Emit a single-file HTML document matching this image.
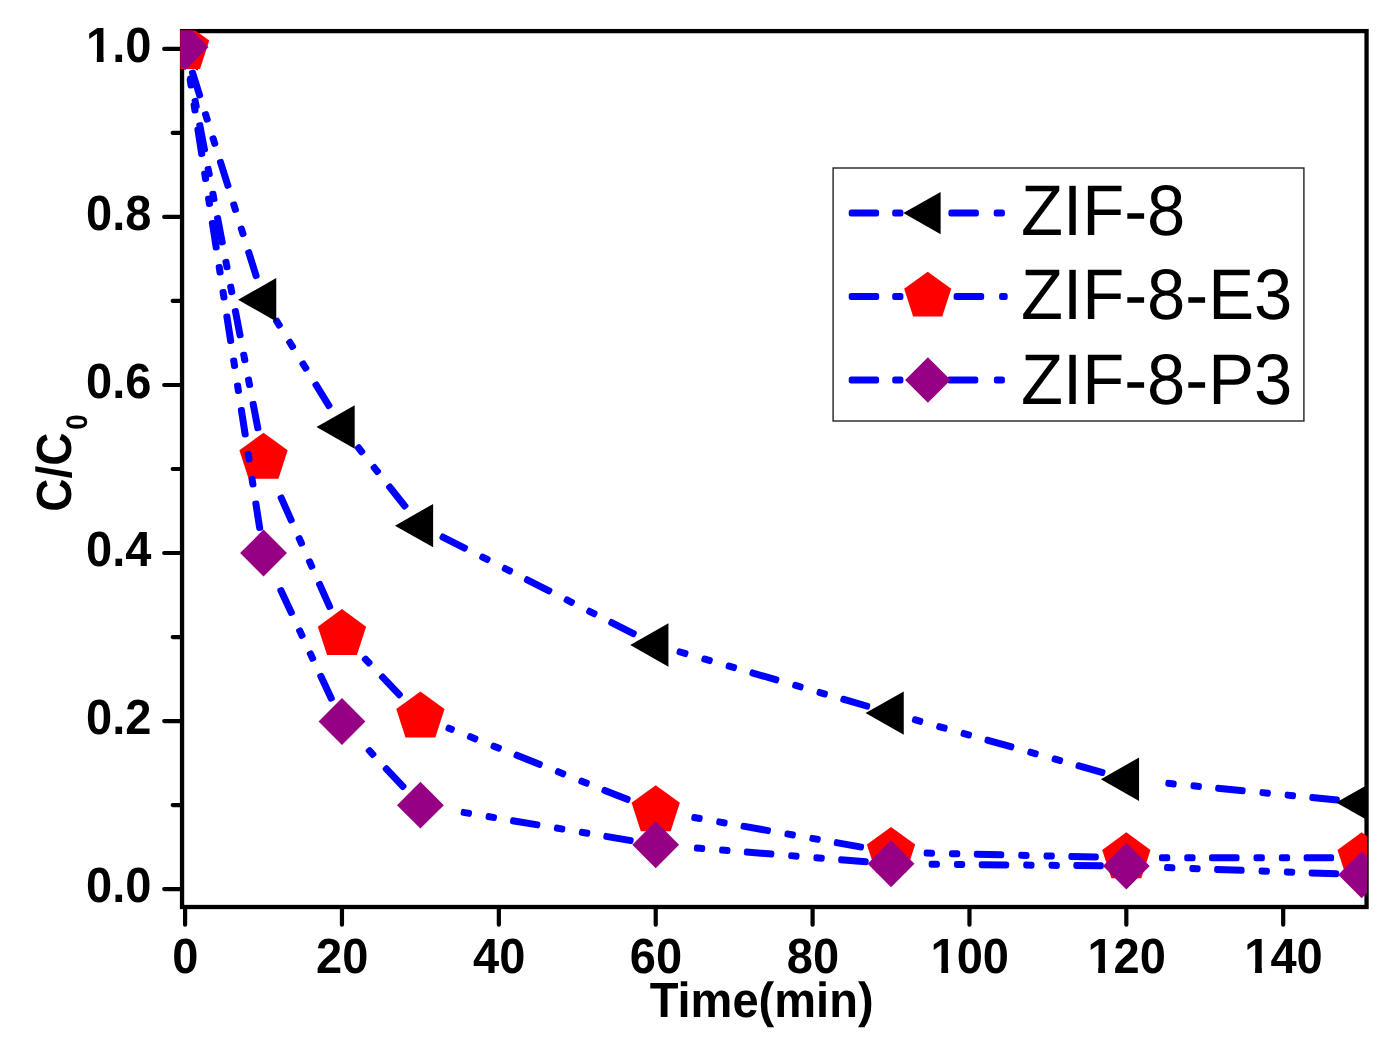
<!DOCTYPE html>
<html lang="en">
<head>
<meta charset="utf-8">
<title>C/C0 vs Time(min) - ZIF-8, ZIF-8-E3, ZIF-8-P3</title>
<style>
html,body{margin:0;padding:0;background:#fff;}
body{width:1393px;height:1041px;overflow:hidden;}
svg{display:block;}
text{white-space:pre;text-rendering:geometricPrecision;}
</style>
</head>
<body>
<svg width="1393" height="1041" viewBox="0 0 1393 1041">
<defs><clipPath id="plot"><rect x="180.4" y="30.6" width="1186.7" height="876.4"/></clipPath></defs>
<rect width="1393" height="1041" fill="#ffffff"/>
<rect x="182.05" y="31.1" width="1184.5" height="875.9" fill="none" stroke="#000" stroke-width="4.3"/>
<path d="M185.1 908.65V924.7M341.97 908.65V924.7M498.84 908.65V924.7M655.72 908.65V924.7M812.59 908.65V924.7M969.46 908.65V924.7M1126.33 908.65V924.7M1283.2 908.65V924.7M164.2 889.1H180.4M172.7 805.08H180.4M164.2 721.06H180.4M172.7 637.04H180.4M164.2 553.02H180.4M172.7 469H180.4M164.2 384.98H180.4M172.7 300.96H180.4M164.2 216.94H180.4M172.7 132.92H180.4M164.2 48.9H180.4" stroke="#000" stroke-width="4.2" fill="none" stroke-linecap="round"/>
<g font-family="'Liberation Sans', Arial, Helvetica, sans-serif" font-weight="bold" font-size="49.4px" fill="#000">
<text transform="translate(185.4 972.9) scale(0.9524 1)" text-anchor="middle">0</text>
<text transform="translate(342.27 972.9) scale(0.9524 1)" text-anchor="middle">20</text>
<text transform="translate(499.14 972.9) scale(0.9524 1)" text-anchor="middle">40</text>
<text transform="translate(656.02 972.9) scale(0.9524 1)" text-anchor="middle">60</text>
<text transform="translate(812.89 972.9) scale(0.9524 1)" text-anchor="middle">80</text>
<text transform="translate(969.76 972.9) scale(0.9524 1)" text-anchor="middle">100</text>
<text transform="translate(1126.63 972.9) scale(0.9524 1)" text-anchor="middle">120</text>
<text transform="translate(1283.5 972.9) scale(0.9524 1)" text-anchor="middle">140</text>
<text transform="translate(151.4 902.3) scale(0.9524 1)" text-anchor="end">0.0</text>
<text transform="translate(151.4 734.26) scale(0.9524 1)" text-anchor="end">0.2</text>
<text transform="translate(151.4 566.22) scale(0.9524 1)" text-anchor="end">0.4</text>
<text transform="translate(151.4 398.18) scale(0.9524 1)" text-anchor="end">0.6</text>
<text transform="translate(151.4 230.14) scale(0.9524 1)" text-anchor="end">0.8</text>
<text transform="translate(151.4 62.1) scale(0.9524 1)" text-anchor="end">1.0</text>
<text transform="translate(761.6 1017.4) scale(0.9524 1)" text-anchor="middle">Time(min)</text>
<text transform="translate(71.2 511.8) rotate(-90) scale(0.932 1)">C/C<tspan font-size="29.8px" dy="16.1" dx="3">0</tspan></text>
</g>
<path d="M931.43 967.26H941.34V973.7H931.43ZM948.1 967.26H956.01V973.7H948.1ZM1088.3 967.26H1098.21V973.7H1088.3ZM1104.97 967.26H1112.88V973.7H1104.97ZM1245.17 967.26H1255.09V973.7H1245.17ZM1261.84 967.26H1269.75V973.7H1261.84ZM86.91 56.46H96.83V62.9H86.91ZM103.58 56.46H111.5V62.9H103.58Z" fill="#fff"/>
<g clip-path="url(#plot)">
<path d="M191.46 72.58L198.79 96.04L200.7 95.44L193.37 71.98ZM204.47 114.17L206.35 120.19L208.26 119.59L206.38 113.58ZM212.02 138.32L213.9 144.33L215.81 143.74L213.93 137.72ZM219.42 161.99L227.03 186.33L228.94 185.73L221.33 161.39ZM232.7 204.46L234.58 210.47L236.49 209.88L234.61 203.86ZM240.25 228.61L242.14 234.62L244.04 234.02L242.16 228.01ZM247.66 252.28L255.27 276.62L257.18 276.02L249.57 251.68ZM275.54 321.08L278.64 326.12L280.34 325.07L277.24 320.03ZM288.61 342.29L291.91 347.66L293.62 346.61L290.31 341.25ZM301.88 363.83L305.19 369.2L306.89 368.15L303.58 362.78ZM314.89 384.95L328.27 406.66L329.97 405.61L316.59 383.9ZM357.32 447.9L361.24 452.83L362.81 451.59L358.89 446.66ZM373.07 467.71L376.99 472.64L378.56 471.39L374.64 466.46ZM388.51 487.12L404.38 507.08L405.94 505.83L390.07 485.87ZM441.92 537.66L464.66 549.19L465.57 547.41L442.82 535.87ZM481.61 557.78L487.23 560.63L488.13 558.85L482.51 556ZM504.18 569.22L509.79 572.07L510.7 570.29L505.08 567.44ZM526.29 580.44L549.04 591.97L549.94 590.19L527.2 578.65ZM565.98 600.56L571.6 603.41L572.51 601.63L566.89 598.78ZM588.55 612L594.17 614.85L595.07 613.07L589.45 610.22ZM610.67 623.22L633.41 634.75L634.32 632.97L611.57 621.43ZM678.97 652.71L685.48 654.6L686.04 652.68L679.53 650.79ZM703.73 659.88L709.78 661.63L710.34 659.71L704.29 657.96ZM728.03 666.92L734.08 668.67L734.64 666.75L728.59 665ZM751.85 673.82L776.35 680.91L776.9 678.99L752.41 671.9ZM794.6 686.2L800.65 687.95L801.2 686.03L795.15 684.27ZM818.9 693.23L824.95 694.99L825.51 693.06L819.45 691.31ZM842.72 700.13L867.21 707.22L867.77 705.3L843.28 698.21ZM914.34 720.67L920.33 722.35L920.87 720.43L914.88 718.74ZM938.62 727.49L944.69 729.2L945.23 727.27L939.16 725.57ZM962.98 734.34L969.04 736.04L969.58 734.12L963.52 732.41ZM986.85 741.05L1011.4 747.94L1011.94 746.02L987.39 739.12ZM1029.69 753.08L1035.76 754.79L1036.3 752.86L1030.24 751.16ZM1054.05 759.93L1060.12 761.63L1060.66 759.71L1054.59 758ZM1077.93 766.64L1102.48 773.54L1103.02 771.61L1078.47 764.71ZM1167.79 784.31L1174.06 784.93L1174.25 782.94L1167.98 782.32ZM1192.96 786.8L1199.23 787.42L1199.43 785.43L1193.16 784.81ZM1217.64 789.24L1243.02 791.75L1243.22 789.76L1217.84 787.25ZM1261.93 793.62L1268.2 794.24L1268.39 792.25L1262.12 791.63ZM1287.1 796.11L1293.37 796.73L1293.57 794.74L1287.3 794.12ZM1311.78 798.55L1337.16 801.06L1337.36 799.07L1311.98 796.56Z" fill="#0000ff" stroke="#0000ff" stroke-width="5" stroke-linejoin="round"/>
<polygon points="159.63,48.9 197.83,27.2 197.83,70.6" fill="#000000"/>
<polygon points="238.07,299.7 276.27,278 276.27,321.4" fill="#000000"/>
<polygon points="316.51,426.99 354.71,405.29 354.71,448.69" fill="#000000"/>
<polygon points="394.94,525.63 433.14,503.93 433.14,547.33" fill="#000000"/>
<polygon points="630.25,644.94 668.45,623.24 668.45,666.64" fill="#000000"/>
<polygon points="865.56,713.08 903.76,691.38 903.76,734.78" fill="#000000"/>
<polygon points="1100.87,779.2 1139.07,757.5 1139.07,800.9" fill="#000000"/>
<polygon points="1336.17,802.48 1374.37,780.78 1374.37,824.18" fill="#000000"/>
<path d="M189.76 78.05L190.52 82L192.48 81.62L191.72 77.67ZM194.09 100.66L195.27 106.85L197.24 106.47L196.05 100.28ZM198.75 125.02L203.55 150.06L205.51 149.69L200.72 124.64ZM207.12 168.72L208.3 174.91L210.27 174.54L209.08 168.35ZM211.88 193.57L213.06 199.76L215.03 199.38L213.84 193.2ZM216.54 217.93L221.34 242.98L223.3 242.6L218.5 217.55ZM224.91 261.64L226.09 267.82L228.06 267.45L226.87 261.26ZM229.67 286.49L230.85 292.67L232.81 292.3L231.63 286.11ZM234.33 310.84L239.12 335.89L241.09 335.51L236.29 310.47ZM242.7 354.55L243.88 360.74L245.85 360.36L244.66 354.17ZM247.45 379.4L248.64 385.59L250.6 385.21L249.42 379.02ZM252.12 403.76L256.91 428.8L258.88 428.42L254.08 403.38ZM280.09 497.77L290.44 521.07L292.27 520.26L281.91 496.96ZM298.16 538.43L300.72 544.19L302.55 543.38L299.99 537.62ZM308.44 561.55L311 567.31L312.83 566.49L310.27 560.74ZM318.51 584.21L328.87 607.51L330.7 606.7L320.34 583.4ZM364.3 659.41L368.64 663.97L370.09 662.59L365.75 658.03ZM381.4 677.36L398.99 695.83L400.44 694.45L382.85 675.98ZM447.9 728.9L451.74 730.43L452.48 728.58L448.64 727.04ZM469.39 737.47L475.24 739.81L475.98 737.95L470.13 735.61ZM492.89 746.84L498.74 749.18L499.48 747.32L493.63 744.99ZM515.93 756.03L539.61 765.48L540.35 763.62L516.67 754.17ZM557.26 772.52L563.11 774.85L563.85 772.99L558 770.66ZM580.76 781.89L586.61 784.22L587.35 782.37L581.5 780.03ZM603.79 791.08L627.48 800.52L628.22 798.67L604.54 789.22ZM693.71 818.44L699.91 819.54L700.26 817.57L694.05 816.47ZM718.62 822.84L724.82 823.94L725.17 821.97L718.97 820.87ZM743.04 827.16L768.15 831.6L768.5 829.63L743.39 825.19ZM786.86 834.9L793.07 836L793.41 834.03L787.21 832.93ZM811.78 839.31L817.98 840.4L818.33 838.43L812.12 837.34ZM836.2 843.62L861.31 848.06L861.66 846.09L836.55 841.65ZM926.16 854.12L932.46 854.26L932.51 852.26L926.21 852.12ZM951.46 854.7L957.75 854.85L957.8 852.85L951.5 852.7ZM976.25 855.28L1001.74 855.87L1001.79 853.87L976.3 853.28ZM1020.74 856.31L1027.04 856.46L1027.08 854.46L1020.78 854.31ZM1046.03 856.9L1052.33 857.04L1052.38 855.04L1046.08 854.9ZM1070.82 857.47L1096.32 858.06L1096.36 856.06L1070.87 855.47ZM1161.44 858.76L1167.74 858.76L1167.74 856.76L1161.44 856.76ZM1186.74 858.76L1193.04 858.76L1193.04 856.76L1186.74 856.76ZM1211.54 858.76L1237.04 858.76L1237.04 856.76L1211.54 856.76ZM1256.04 858.76L1262.34 858.76L1262.34 856.76L1256.04 856.76ZM1281.34 858.76L1287.64 858.76L1287.64 856.76L1281.34 856.76ZM1306.14 858.76L1331.64 858.76L1331.64 856.76L1306.14 856.76Z" fill="#0000ff" stroke="#0000ff" stroke-width="5" stroke-linejoin="round"/>
<polygon points="185.1,23 209.26,40.55 200.03,68.94 170.17,68.94 160.94,40.55" fill="#ff0000"/>
<polygon points="263.54,432.68 287.69,450.23 278.47,478.63 248.61,478.63 239.38,450.23" fill="#ff0000"/>
<polygon points="341.97,609.12 366.13,626.67 356.9,655.07 327.04,655.07 317.82,626.67" fill="#ff0000"/>
<polygon points="420.41,691.46 444.56,709.01 435.34,737.41 405.48,737.41 396.25,709.01" fill="#ff0000"/>
<polygon points="655.72,785.31 679.87,802.86 670.65,831.26 640.79,831.26 631.56,802.86" fill="#ff0000"/>
<polygon points="891.02,826.9 915.18,844.45 905.95,872.85 876.09,872.85 866.87,844.45" fill="#ff0000"/>
<polygon points="1126.33,832.36 1150.49,849.91 1141.26,878.31 1111.4,878.31 1102.18,849.91" fill="#ff0000"/>
<polygon points="1361.64,832.36 1385.8,849.91 1376.57,878.31 1346.71,878.31 1337.48,849.91" fill="#ff0000"/>
<path d="M189.19 79.82L190.16 86.05L192.13 85.74L191.17 79.52ZM193.07 104.82L194.03 111.05L196.01 110.74L195.04 104.52ZM196.87 129.33L200.77 154.53L202.75 154.23L198.84 129.03ZM203.68 173.31L204.64 179.53L206.62 179.23L205.66 173ZM207.55 198.31L208.52 204.53L210.5 204.23L209.53 198ZM211.35 222.82L215.26 248.02L217.23 247.71L213.33 222.51ZM218.17 266.79L219.13 273.02L221.11 272.71L220.14 266.49ZM222.04 291.79L223.01 298.02L224.98 297.71L224.02 291.49ZM225.84 316.3L229.74 341.5L231.72 341.19L227.82 315.99ZM232.65 360.28L233.62 366.5L235.6 366.2L234.63 359.97ZM236.53 385.28L237.49 391.5L239.47 391.2L238.51 384.97ZM240.33 409.78L244.23 434.98L246.21 434.68L242.3 409.48ZM247.14 453.76L248.11 459.99L250.08 459.68L249.12 453.45ZM251.02 478.76L251.98 484.99L253.96 484.68L252.99 478.46ZM254.81 503.27L258.72 528.47L260.7 528.16L256.79 502.96ZM279.82 590.36L290.58 613.48L292.4 612.63L281.63 589.52ZM298.6 630.7L301.26 636.41L303.07 635.57L300.42 629.86ZM309.28 653.64L311.94 659.35L313.75 658.51L311.09 652.79ZM319.75 676.12L330.51 699.24L332.33 698.39L321.56 675.28ZM368.18 750.91L372.49 755.5L373.95 754.14L369.64 749.54ZM385.14 769L402.58 787.61L404.04 786.24L386.6 767.63ZM463.05 813.35L469.27 814.39L469.6 812.42L463.39 811.38ZM488 817.55L494.22 818.59L494.55 816.62L488.33 815.57ZM512.46 821.66L537.61 825.89L537.94 823.92L512.79 819.69ZM556.34 829.04L562.56 830.08L562.89 828.11L556.68 827.07ZM581.29 833.24L587.51 834.28L587.84 832.31L581.62 831.26ZM605.75 837.35L630.9 841.58L631.23 839.61L606.08 835.38ZM696.38 849.02L702.66 849.53L702.82 847.54L696.54 847.03ZM721.59 851.06L727.87 851.56L728.03 849.57L721.75 849.06ZM746.31 853.05L771.73 855.1L771.89 853.11L746.47 851.06ZM790.67 856.63L796.95 857.14L797.11 855.14L790.83 854.64ZM815.89 858.67L822.17 859.17L822.33 857.18L816.05 856.67ZM840.61 860.66L866.02 862.71L866.19 860.72L840.77 858.67ZM931.13 865.13L937.43 865.19L937.45 863.19L931.15 863.13ZM956.43 865.38L962.73 865.44L962.75 863.44L956.45 863.38ZM981.23 865.63L1006.73 865.88L1006.75 863.88L981.25 863.63ZM1025.73 866.07L1032.03 866.14L1032.05 864.14L1025.75 864.07ZM1051.03 866.33L1057.33 866.39L1057.35 864.39L1051.05 864.33ZM1075.82 866.57L1101.32 866.83L1101.34 864.83L1075.84 864.57ZM1166.54 868.56L1172.83 868.79L1172.9 866.79L1166.61 866.56ZM1191.82 869.49L1198.11 869.72L1198.19 867.72L1191.89 867.49ZM1216.6 870.4L1242.08 871.34L1242.16 869.34L1216.67 868.4ZM1261.07 872.03L1267.37 872.27L1267.44 870.27L1261.14 870.04ZM1286.35 872.96L1292.65 873.2L1292.72 871.2L1286.43 870.97ZM1311.14 873.88L1336.62 874.81L1336.69 872.81L1311.21 871.88Z" fill="#0000ff" stroke="#0000ff" stroke-width="5" stroke-linejoin="round"/>
<polygon points="185.1,23.48 208.5,46.88 185.1,70.28 161.7,46.88" fill="#960084"/>
<polygon points="263.54,529.62 286.94,553.02 263.54,576.42 240.14,553.02" fill="#960084"/>
<polygon points="341.97,698.08 365.37,721.48 341.97,744.88 318.57,721.48" fill="#960084"/>
<polygon points="420.41,781.76 443.81,805.16 420.41,828.56 397.01,805.16" fill="#960084"/>
<polygon points="655.72,821.34 679.12,844.74 655.72,868.14 632.32,844.74" fill="#960084"/>
<polygon points="891.02,840.33 914.42,863.73 891.02,887.13 867.62,863.73" fill="#960084"/>
<polygon points="1126.33,842.68 1149.73,866.08 1126.33,889.48 1102.93,866.08" fill="#960084"/>
<polygon points="1361.64,851.33 1385.04,874.73 1361.64,898.13 1338.24,874.73" fill="#960084"/>
</g>
<rect x="833.1" y="168" width="470.8" height="253" fill="#fff" stroke="#222" stroke-width="1.4"/>
<path d="M851.2 212.1H876.6V214.1H851.2ZM894.7 212.1H900.9V214.1H894.7ZM950.9 212.1H976.4V214.1H950.9ZM996.2 212.1H1002.4V214.1H996.2Z" fill="#0000ff" stroke="#0000ff" stroke-width="5" stroke-linejoin="round"/>
<polygon points="903.37,213.1 940.62,191.94 940.62,234.26" fill="#000000"/>
<text transform="translate(1021.0 235.4) scale(0.962 1)" font-family="'Liberation Sans', Arial, Helvetica, sans-serif" font-size="71.5px" fill="#000">ZIF-8</text>
<path d="M851.2 295.4H876.7V297.4H851.2ZM894.7 295.4H900.9V297.4H894.7ZM956.1 295.4H981.7V297.4H956.1ZM1001.6 295.4H1005.2V297.4H1001.6Z" fill="#0000ff" stroke="#0000ff" stroke-width="5" stroke-linejoin="round"/>
<polygon points="927.7,271.63 951.25,288.75 942.26,316.44 913.14,316.44 904.15,288.75" fill="#ff0000"/>
<text transform="translate(1021.0 319.1) scale(0.962 1)" font-family="'Liberation Sans', Arial, Helvetica, sans-serif" font-size="71.5px" fill="#000">ZIF-8-E3</text>
<path d="M851.2 379H876.6V381H851.2ZM894.7 379H900.9V381H894.7ZM949.5 379H975.8V381H949.5ZM996.4 379H1002.4V381H996.4Z" fill="#0000ff" stroke="#0000ff" stroke-width="5" stroke-linejoin="round"/>
<polygon points="927.9,357.19 950.71,380 927.9,402.81 905.09,380" fill="#960084"/>
<text transform="translate(1021.0 403.6) scale(0.962 1)" font-family="'Liberation Sans', Arial, Helvetica, sans-serif" font-size="71.5px" fill="#000">ZIF-8-P3</text>
</svg>
</body>
</html>
